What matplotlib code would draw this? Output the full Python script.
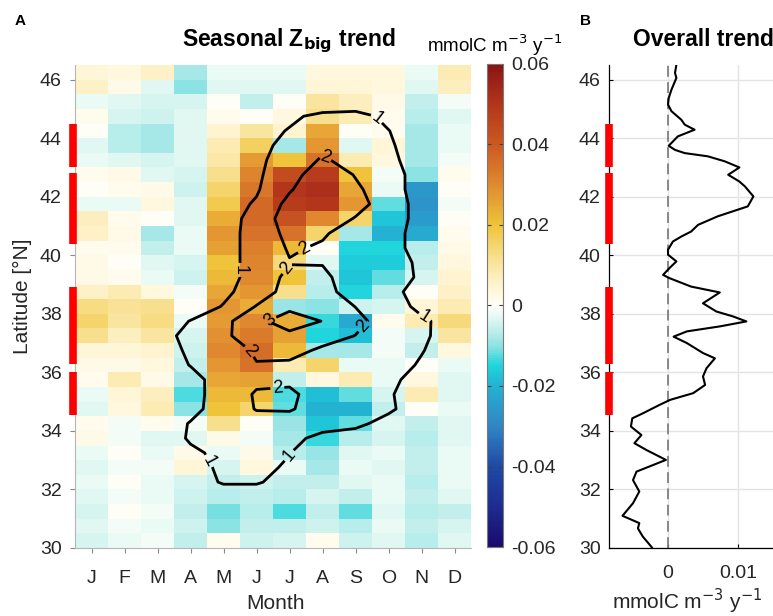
import numpy as np
import matplotlib
matplotlib.use("Agg")  # no display in the sandbox
import matplotlib.pyplot as plt
from matplotlib.colors import LinearSegmentedColormap
from matplotlib.transforms import blended_transform_factory

plt.rcParams["font.family"] = ["Liberation Sans", "DejaVu Sans"]
plt.rcParams["axes.unicode_minus"] = False

# ---------------------------------------------------------------------------
# Data
# ---------------------------------------------------------------------------

month_labels = ["J", "F", "M", "A", "M", "J", "J", "A", "S", "O", "N", "D"]
lat_edges = np.arange(30.0, 46.51, 0.5)
lat_centres = lat_edges[:-1] + 0.25

# seasonal trend per month, 0.5 deg bins from 30.25N (first) to 46.25N (last),
# in 1e-3 mmolC m-3 y-1
trend_jan = [-4, -3, -4, -3, -2, -3, -2, 2, 1, -3, -2, 1, 2, 4, 12, 15, 13, 6, 2, 2, 1, 6, 7, -2, 0, 1, -2, -3, 0, 1, -2, 6, 4]
trend_feb = [-2, -1, 0, -1, 0, -1, 0, -1, -1, 3, 4, 8, 2, 4, 7, 10, 11, 8, 1, 0, 1, 2, 1, -2, 1, 2, -3, -7, -7, -4, -3, 2, 3]
trend_mar = [-1, -2, -1, -2, -2, -1, -2, -3, 1, 8, 7, 2, 3, 5, 10, 13, 12, 3, -2, -3, -6, -8, 0, 3, 2, -3, -4, -8, -8, -5, -4, -3, 6]
trend_apr = [-6, -5, -6, -5, -4, 4, 2, -3, -1, -10, -13, -8, -6, -5, -4, -2, 0, -1, -5, -4, -2, -2, -3, -3, -5, -4, -3, -3, -3, -3, -4, -10, -8]
trend_may = [1, -10, -11, -7, -6, -4, -2, 2, 12, 20, 22, 25, 28, 30, 29, 27, 28, 25, 22, 20, 26, 28, 24, 18, 15, 12, 9, 8, 5, 1, 0, -3, -2]
trend_jun = [-5, -6, -7, -6, -5, 3, 2, -1, 0, 15, 22, 26, 35, 36, 33, 30, 24, 28, 30, 31, 32, 35, 37, 37, 34, 31, 27, 16, 10, 0, -6, -3, -2]
trend_jul = [-4, -6, -13, -7, -6, -2, -7, -8, -9, -12, -13, -6, 8, 22, 26, 24, -9, 12, 20, 14, 22, 35, 42, 48, 50, 44, 20, -8, 5, 3, 0, -3, -2]
trend_aug = [1, -5, -6, -4, -6, -8, -9, -14, -17, -20, -18, 3, 15, -8, -15, -14, -10, -7, -6, -3, 0, 15, 30, 50, 52, 48, 35, 28, 25, 12, 10, 4, 3]
trend_sep = [-5, -7, -12, -6, -3, -2, -3, -7, -12, -20, -12, 8, -2, -8, -18, -22, -5, -15, -17, -16, -15, -8, 15, 28, 25, 20, 8, -3, 0, 8, 7, 4, 3]
trend_oct = [-3, -2, -3, -2, -2, -3, -2, -4, -3, -6, -4, -2, -2, -1, -1, 1, -4, -7, -12, -16, -15, -20, -17, -12, -2, -1, 3, 4, 1, 1, 2, 3, 3]
trend_nov = [-7, -6, -7, -6, -7, -6, -6, -7, -6, 0, 8, 3, 0, -6, -4, 8, 4, 0, -4, -6, -7, -22, -25, -27, -26, -10, -8, -8, -8, -7, -6, -3, -2]
trend_dec = [-3, -4, -6, -3, -2, -2, -2, -3, -3, -2, -3, -3, -2, 3, 10, 14, 8, 6, 5, 3, 2, 1, 0, -1, 0, 1, -1, -2, -2, -3, -1, 7, 8]

# Zbig climatology used for the black contours (one row per latitude bin,
# south -> north, columns J..D)
zbig_clim = [
    [0.4, 0.4, 0.4, 0.4, 0.4, 0.4, 0.4, 0.4, 0.4, 0.4, 0.4, 0.4],      # 30.25
    [0.4, 0.4, 0.4, 0.4, 0.4, 0.4, 0.4, 0.4, 0.4, 0.4, 0.4, 0.4],      # 30.75
    [0.4, 0.4, 0.4, 0.4, 0.4, 0.4, 0.4, 0.4, 0.4, 0.4, 0.4, 0.4],      # 31.25
    [0.4, 0.4, 0.4, 0.4, 0.4, 0.4, 0.4, 0.4, 0.4, 0.4, 0.4, 0.4],      # 31.75
    [0.4, 0.4, 0.4, 0.5, 1.1, 1.1, 0.6, 0.4, 0.4, 0.4, 0.4, 0.4],      # 32.25
    [0.4, 0.4, 0.4, 0.7, 1.15, 1.2, 0.9, 0.5, 0.4, 0.4, 0.4, 0.4],     # 32.75
    [0.4, 0.4, 0.45, 0.85, 1.2, 1.3, 1.02, 0.6, 0.45, 0.4, 0.4, 0.4],  # 33.25
    [0.4, 0.4, 0.45, 1.1, 1.4, 1.4, 1.2, 0.8, 0.6, 0.45, 0.4, 0.4],    # 33.75
    [0.4, 0.4, 0.5, 1.05, 1.4, 1.6, 1.5, 1.3, 1.2, 0.7, 0.45, 0.4],    # 34.25
    [0.4, 0.4, 0.5, 0.75, 1.4, 2.05, 2.1, 1.5, 1.4, 1.15, 0.5, 0.4],   # 34.75
    [0.4, 0.4, 0.5, 0.7, 1.4, 2.1, 2.2, 1.5, 1.4, 1.1, 0.5, 0.4],      # 35.25
    [0.4, 0.4, 0.5, 0.7, 1.4, 1.8, 1.8, 1.6, 1.5, 1.3, 0.5, 0.4],      # 35.75
    [0.4, 0.4, 0.5, 1.03, 1.4, 1.95, 1.8, 1.6, 1.5, 1.4, 0.9, 0.4],    # 36.25
    [0.4, 0.4, 0.55, 1.15, 1.4, 2.15, 2.4, 1.8, 1.6, 1.5, 1.05, 0.5],  # 36.75
    [0.4, 0.45, 0.6, 1.3, 1.8, 2.6, 2.8, 2.5, 1.98, 1.5, 1.15, 0.6],   # 37.25
    [0.4, 0.45, 0.5, 1.03, 1.7, 2.8, 3.4, 2.98, 2.3, 1.5, 1.2, 0.5],   # 37.75
    [0.4, 0.4, 0.45, 0.5, 1.05, 2.05, 2.8, 2.7, 1.98, 1.6, 0.7, 0.4],  # 38.25
    [0.4, 0.4, 0.4, 0.45, 0.8, 1.45, 2.4, 2.3, 1.6, 1.4, 0.5, 0.4],    # 38.75
    [0.4, 0.4, 0.4, 0.45, 0.75, 1.25, 2.3, 2.2, 1.5, 1.5, 0.85, 0.4],  # 39.25
    [0.4, 0.4, 0.4, 0.45, 0.75, 1.25, 1.95, 1.95, 1.6, 1.5, 0.8, 0.4], # 39.75
    [0.4, 0.4, 0.4, 0.45, 0.7, 1.3, 2.1, 1.9, 1.6, 1.5, 0.5, 0.4],     # 40.25
    [0.4, 0.4, 0.4, 0.45, 0.7, 1.3, 2.3, 2.1, 1.6, 1.5, 0.5, 0.4],     # 40.75
    [0.4, 0.4, 0.4, 0.45, 0.7, 1.25, 2.6, 2.5, 1.95, 1.6, 0.6, 0.4],   # 41.25
    [0.4, 0.4, 0.4, 0.45, 0.6, 1.1, 2.3, 2.8, 2.3, 1.6, 0.6, 0.4],     # 41.75
    [0.4, 0.4, 0.4, 0.45, 0.5, 0.9, 1.9, 2.8, 2.15, 1.5, 0.5, 0.4],    # 42.25
    [0.4, 0.4, 0.4, 0.45, 0.5, 0.85, 1.6, 2.6, 1.95, 1.5, 0.5, 0.4],   # 42.75
    [0.4, 0.4, 0.4, 0.45, 0.5, 0.8, 1.45, 2.1, 1.7, 1.3, 0.4, 0.4],    # 43.25
    [0.4, 0.4, 0.4, 0.4, 0.5, 0.75, 1.25, 1.8, 1.6, 1.15, 0.4, 0.4],   # 43.75
    [0.4, 0.4, 0.4, 0.4, 0.5, 0.7, 1.05, 1.5, 1.5, 1.02, 0.5, 0.4],    # 44.25
    [0.4, 0.4, 0.4, 0.4, 0.5, 0.6, 0.85, 1.2, 1.3, 0.8, 0.5, 0.4],     # 44.75
    [0.4, 0.4, 0.4, 0.4, 0.4, 0.4, 0.4, 0.4, 0.4, 0.4, 0.4, 0.4],      # 45.25
    [0.4, 0.4, 0.4, 0.4, 0.4, 0.4, 0.4, 0.4, 0.4, 0.4, 0.4, 0.4],      # 45.75
    [0.4, 0.4, 0.4, 0.4, 0.4, 0.4, 0.4, 0.4, 0.4, 0.4, 0.4, 0.4],      # 46.25
]
contour_levels = [1, 2, 3]
# where the contour labels sit (month, latitude)
label_spots = [(9.75, 44.8), (11.1, 37.9), (5.5, 39.5), (4.6, 33.0), (6.95, 33.2),
               (8.1, 43.4), (7.5, 40.1), (7.1, 39.4), (9.45, 37.35), (5.9, 36.8),
               (6.65, 35.2), (6.4, 37.8)]

# overall (annual) trend profile, north -> south
overall_lat = [46.51, 46.23, 46.06, 45.66, 45.37, 45.15, 44.92, 44.63, 44.46, 44.29,
               44.06, 43.74, 43.6, 43.49, 43.38, 43.21, 43.0, 42.75, 42.52, 42.35,
               42.01, 41.67, 41.56, 41.33, 41.04, 40.81, 40.64, 40.47, 40.19, 40.02,
               39.79, 39.56, 39.33, 39.22, 38.93, 38.73, 38.36, 38.08, 37.91, 37.74,
               37.57, 37.4, 37.22, 37.0, 36.66, 36.48, 36.14, 35.86, 35.57, 35.29,
               35.06, 34.89, 34.6, 34.43, 34.15, 33.86, 33.58, 33.35, 33.01, 32.78,
               32.61, 32.32, 31.93, 31.53, 31.1, 30.85, 30.67, 30.39, 30.02]
overall_val = [0.0012, 0.0010, 0.0012, 0.0005, 0.0001, 0.0000, 0.0005, 0.0019, 0.0024, 0.0038,
               0.0014, 0.0001, 0.0010, 0.0024, 0.0057, 0.0081, 0.0102, 0.0086, 0.0102, 0.0110,
               0.0122, 0.0114, 0.0100, 0.0071, 0.0043, 0.0033, 0.0019, 0.0007, 0.0000, 0.0000,
               0.0012, 0.0002, -0.0007, 0.0002, 0.0033, 0.0074, 0.0050, 0.0069, 0.0093, 0.0112,
               0.0074, 0.0027, 0.0008, 0.0027, 0.0050, 0.0067, 0.0055, 0.0050, 0.0053, 0.0036,
               0.0003, -0.0012, -0.0036, -0.0051, -0.0053, -0.0038, -0.0048, -0.0031, -0.0003, -0.0027,
               -0.0045, -0.0050, -0.0041, -0.0050, -0.0065, -0.0041, -0.0043, -0.0036, -0.0023]

# latitude bands flagged in red along the y axes
red_bands = [(43.0, 44.5), (40.4, 42.8), (36.3, 38.9), (34.55, 36.0)]

# ---------------------------------------------------------------------------
# Figure
# ---------------------------------------------------------------------------

W, H = 773, 616
GREY_TXT = "#262626"
TICK_FS = 14
LABEL_FS = 15
TITLE_FS = 16.5


def px_box(left, top, right, bottom):
    """pixel box -> figure fraction [l, b, w, h]"""
    return [left / W, 1 - bottom / H, (right - left) / W, (bottom - top) / H]


cmap = LinearSegmentedColormap.from_list("trend", [
    (0.000, "#1a0a6c"), (0.083, "#1e2c90"), (0.167, "#1f4aa5"), (0.250, "#3186c4"),
    (0.333, "#23b2d2"), (0.375, "#1dd5dc"), (0.417, "#8fe3e3"), (0.458, "#cdf2ee"),
    (0.500, "#fffff8"), (0.542, "#fff3cf"), (0.583, "#fae6a2"), (0.667, "#efc43a"),
    (0.750, "#e08a30"), (0.833, "#cc5a22"), (0.917, "#b3361b"), (1.000, "#8b1414"),
])

trend = np.array([trend_jan, trend_feb, trend_mar, trend_apr, trend_may, trend_jun,
                  trend_jul, trend_aug, trend_sep, trend_oct, trend_nov, trend_dec]).T * 1e-3
month_edges = np.arange(0.5, 12.51, 1.0)
months = np.arange(1, 13)

fig = plt.figure(figsize=(W / 100, H / 100), dpi=100)

# --- panel A --------------------------------------------------------------
ax = fig.add_axes(px_box(75, 65, 471, 548))
mesh = ax.pcolormesh(month_edges, lat_edges, trend, cmap=cmap, vmin=-0.06, vmax=0.06,
                     shading="flat")
cs = ax.contour(months, lat_centres, np.array(zbig_clim), levels=contour_levels,
                colors="black", linewidths=2.0)
ax.clabel(cs, fmt="%d", fontsize=13, inline=True, inline_spacing=2, manual=label_spots)

ax.set_xlim(0.5, 12.5)
ax.set_ylim(30, 46.5)
ax.set_xticks(months)
ax.set_xticklabels(month_labels)
ax.set_yticks(np.arange(30, 47, 2))
for side in ["top", "right"]:
    ax.spines[side].set_visible(False)
for side in ["left", "bottom"]:
    ax.spines[side].set_color("#b5b5b5")
    ax.spines[side].set_linewidth(0.8)
ax.tick_params(axis="x", direction="out", length=3.5, width=0.8, color="#8a8a8a",
               labelsize=TICK_FS, labelcolor=GREY_TXT, pad=12)
ax.tick_params(axis="y", direction="out", length=3.5, width=0.8, color="#8a8a8a",
               labelsize=TICK_FS, labelcolor=GREY_TXT, pad=6)

trans = blended_transform_factory(ax.transAxes, ax.transData)
for lo, hi in red_bands:
    ax.plot([-0.004, -0.004], [lo, hi], color="red", lw=5.5, solid_capstyle="butt",
            transform=trans, clip_on=False, zorder=5)

fig.text(15 / W, 1 - 25 / H, "A", fontsize=11, fontweight="bold", va="baseline")
fig.text(289 / W, 1 - 46 / H, r"Seasonal Z$_{\mathbf{big}}$ trend", fontsize=TITLE_FS,
         fontweight="bold", ha="center", va="baseline")
fig.text(275 / W, 1 - 609 / H, "Month", fontsize=LABEL_FS, color=GREY_TXT, ha="center",
         va="baseline")
fig.text(22 / W, 1 - 296 / H, "Latitude [°N]", fontsize=LABEL_FS, color=GREY_TXT,
         rotation=90, ha="center", va="center")

# --- colorbar -------------------------------------------------------------
cax = fig.add_axes(px_box(487, 64, 503, 547))
cb = fig.colorbar(mesh, cax=cax, ticks=np.arange(-0.06, 0.061, 0.02))
cb.ax.set_yticklabels(["-0.06", "-0.04", "-0.02", "0", "0.02", "0.04", "0.06"])
cb.outline.set_edgecolor("#7a7a7a")
cb.outline.set_linewidth(0.8)
cb.ax.tick_params(direction="in", left=True, right=True, length=3, width=0.8,
                  color="#404040", labelsize=TICK_FS, labelcolor=GREY_TXT, pad=6)
fig.text(495 / W, 1 - 52 / H, r"mmolC m$^{-3}$ y$^{-1}$", fontsize=13.5,
         ha="center", va="baseline")

# --- panel B --------------------------------------------------------------
bx = fig.add_axes(px_box(609, 65, 800, 548))
bx.set_xlim(-0.00843, 0.01886)
bx.set_ylim(30, 46.5)
bx.set_yticks(np.arange(30, 47, 2))
bx.set_xticks([0, 0.01])
bx.set_xticklabels(["0", "0.01"])
bx.grid(True, color="#e3e3e3", lw=1.0)
bx.set_axisbelow(True)
bx.axvline(0, color="#808080", lw=1.3, ls=(0, (6, 3)), zorder=2)
bx.plot(overall_val, overall_lat, color="black", lw=1.5, zorder=3)
for side in ["top", "right"]:
    bx.spines[side].set_visible(False)
for side in ["left", "bottom"]:
    bx.spines[side].set_linewidth(0.9)
bx.tick_params(axis="both", direction="in", length=3, width=0.8, labelsize=TICK_FS,
               labelcolor=GREY_TXT)
bx.tick_params(axis="x", pad=12)
bx.tick_params(axis="y", pad=6)

trans_b = blended_transform_factory(bx.transAxes, bx.transData)
for lo, hi in red_bands:
    bx.plot([0.0, 0.0], [lo, hi], color="red", lw=5.5, solid_capstyle="butt",
            transform=trans_b, clip_on=False, zorder=5)

fig.text(580 / W, 1 - 25 / H, "B", fontsize=11, fontweight="bold", va="baseline")
fig.text(633 / W, 1 - 46 / H, "Overall trend", fontsize=TITLE_FS, fontweight="bold",
         ha="left", va="baseline")
fig.text(687 / W, 1 - 609 / H, r"mmolC m$^{-3}$ y$^{-1}$", fontsize=LABEL_FS,
         color=GREY_TXT, ha="center", va="baseline")

fig.savefig("out.png", dpi=100)
